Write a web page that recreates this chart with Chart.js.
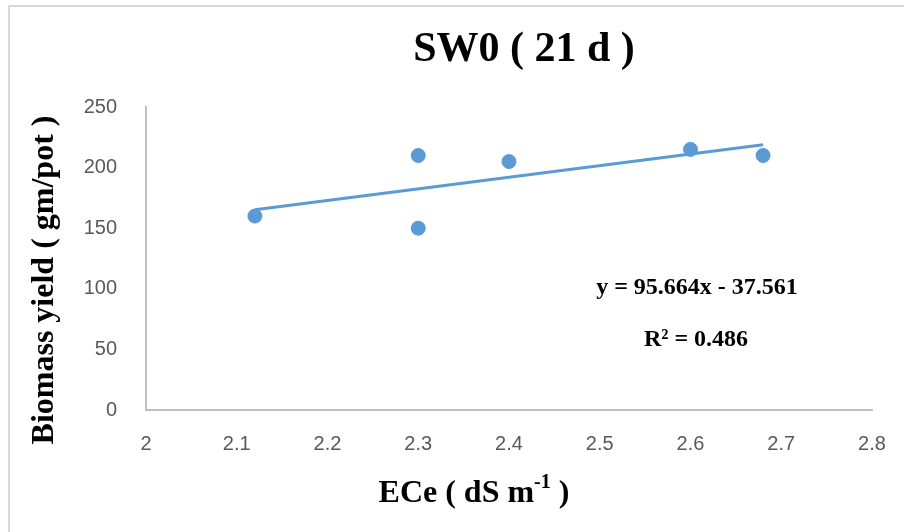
<!DOCTYPE html>
<html>
<head>
<meta charset="utf-8">
<script src="https://cdn.jsdelivr.net/npm/chart.js@4.4.1/dist/chart.umd.min.js"></script>
<style>
  html, body { margin: 0; padding: 0; background: #fff; }
  #wrap { width: 904px; height: 532px; position: relative; }
</style>
</head>
<body>
<div id="wrap"><canvas id="chart" width="904" height="532"></canvas></div>
<script>
// data
const ece = [2.12, 2.3, 2.3, 2.4, 2.6, 2.68];
const biomass = [160, 210, 150, 205, 215, 210];
const xTicks = [2, 2.1, 2.2, 2.3, 2.4, 2.5, 2.6, 2.7, 2.8];
const yTicks = [0, 50, 100, 150, 200, 250];
const slope = 95.664;
const intercept = -37.561;
const r2 = 0.486;

const blue = '#5b9bd5';
const serif = '"Liberation Serif", "Times New Roman", serif';
const tickFont = { family: '"Liberation Sans", Arial, sans-serif', size: 20 };

const xMin = Math.min(...ece), xMax = Math.max(...ece);
const trend = [
  { x: xMin, y: slope * xMin + intercept },
  { x: xMax, y: slope * xMax + intercept }
];
const points = ece.map((x, i) => ({ x: x, y: biomass[i] }));

const textPlugin = {
  id: 'texts',
  beforeDraw(chart) {
    const ctx = chart.ctx;
    ctx.save();
    ctx.fillStyle = '#fff';
    ctx.fillRect(0, 0, chart.width, chart.height);
    // outer frame
    ctx.strokeStyle = '#d9d9d9';
    ctx.lineWidth = 2;
    ctx.beginPath();
    ctx.moveTo(9, 532);
    ctx.lineTo(9, 6);
    ctx.lineTo(904, 6);
    ctx.stroke();
    ctx.restore();
  },
  afterDraw(chart) {
    const ctx = chart.ctx;
    ctx.save();
    ctx.fillStyle = '#000';
    ctx.textAlign = 'center';
    ctx.textBaseline = 'middle';

    ctx.font = 'bold 42px ' + serif;
    ctx.fillText('SW0 ( 21 d )', 524, 50);

    // x title with superscript
    const big = 'bold 32px ' + serif, small = 'bold 20px ' + serif;
    ctx.font = big;
    const main = 'ECe ( dS m';
    const sup = '-1';
    const tail = ' )';
    const wMain = ctx.measureText(main).width;
    const wTail = ctx.measureText(tail).width;
    ctx.font = small;
    const wSup = ctx.measureText(sup).width;
    let x0 = 474 - (wMain + wSup + wTail) / 2;
    ctx.textAlign = 'left';
    ctx.font = big;
    ctx.fillText(main, x0, 494);
    ctx.font = small;
    ctx.fillText(sup, x0 + wMain, 483);
    ctx.font = big;
    ctx.fillText(tail, x0 + wMain + wSup, 494);

    // y title
    ctx.save();
    ctx.translate(45, 280);
    ctx.rotate(-Math.PI / 2);
    ctx.textAlign = 'center';
    ctx.font = 'bold 32px ' + serif;
    ctx.fillText('Biomass yield ( gm/pot )', 0, 0);
    ctx.restore();

    // equation
    ctx.textAlign = 'center';
    ctx.font = 'bold 24px ' + serif;
    ctx.fillText('y = ' + slope + 'x - ' + Math.abs(intercept), 697, 288);
    ctx.fillText('R\u00b2 = ' + r2, 696, 340);
    ctx.restore();
  }
};

new Chart(document.getElementById('chart'), {
  type: 'scatter',
  data: {
    datasets: [
      {
        label: 'trend',
        data: trend,
        showLine: true,
        borderColor: blue,
        borderWidth: 3,
        pointRadius: 0,
        fill: false
      },
      {
        label: 'Biomass',
        data: points,
        backgroundColor: blue,
        borderColor: blue,
        pointRadius: 7,
        pointHoverRadius: 7
      }
    ]
  },
  options: {
    responsive: false,
    animation: false,
    events: [],
    layout: { padding: { top: 107, right: 32, left: 0, bottom: 0 } },
    plugins: {
      legend: { display: false },
      tooltip: { enabled: false }
    },
    scales: {
      x: {
        type: 'linear',
        min: 2,
        max: 2.8,
        afterBuildTicks(scale) { scale.ticks = xTicks.map(v => ({ value: v })); },
        afterFit(scale) { scale.height = 532 - 410; },
        grid: { display: false },
        border: { display: true, color: '#bfbfbf', width: 2 },
        ticks: {
          color: '#595959',
          font: tickFont,
          padding: 14,
          maxRotation: 0,
          callback: v => String(Math.round(v * 10) / 10)
        }
      },
      y: {
        min: 0,
        max: 250,
        afterBuildTicks(scale) { scale.ticks = yTicks.map(v => ({ value: v })); },
        afterFit(scale) { scale.width = 146; },
        grid: { display: false },
        border: { display: true, color: '#bfbfbf', width: 2 },
        ticks: {
          color: '#595959',
          font: tickFont,
          padding: 21
        }
      }
    }
  },
  plugins: [textPlugin]
});
</script>
</body>
</html>
